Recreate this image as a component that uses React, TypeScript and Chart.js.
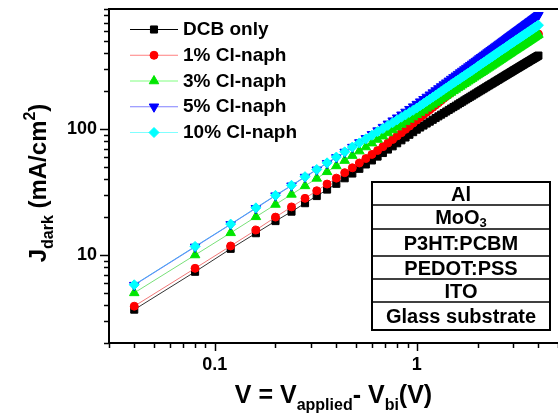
import React, { useEffect, useRef } from 'react';
import { Chart, registerables } from 'chart.js';

Chart.register(...registerables);

// ---------------- data ----------------
const VOLTAGE = [0.04,0.08,0.12,0.16,0.2,0.24,0.28,0.32,0.36,0.4,0.44,0.48,0.52,0.56,0.6,0.64,0.68,0.72,0.76,0.8,0.84,0.88,0.92,0.96,1,1.04,1.08,1.12,1.16,1.2,1.24,1.28,1.32,1.36,1.4,1.44,1.48,1.52,1.56,1.6,1.64,1.68,1.72,1.76,1.8,1.84,1.88,1.92,1.96,2,2.04,2.08,2.12,2.16,2.2,2.24,2.28,2.32,2.36,2.4,2.44,2.48,2.52,2.56,2.6,2.64,2.68,2.72,2.76,2.8,2.84,2.88,2.92,2.96,3,3.04,3.08,3.12,3.16,3.2,3.24,3.28,3.32,3.36,3.4,3.44,3.48,3.52,3.56,3.6,3.64,3.68,3.72,3.76,3.8,3.84,3.88,3.92,3.96,4];

const DCB_ONLY = [3.68,7.36,11.2,14.9,18.6,22.1,25.8,29.4,33.1,36.8,40.7,44.4,48.4,52.4,56.4,60.5,64.6,68.8,73.0,77.2,81.5,85.8,90.2,94.6,99.0,103.0,106.8,110.8,114.6,118.6,122.5,126.3,130.3,134.1,138.0,142.0,145.8,149.7,153.5,157.4,161.4,165.1,169.1,172.8,176.8,180.7,184.4,188.4,192.1,196.0,199.9,203.6,207.5,211.2,215.2,219.1,222.8,226.7,230.3,234.2,238.1,241.8,245.7,249.3,253.2,257.1,260.8,264.7,268.3,272.2,276.0,279.6,283.5,287.1,291.0,294.9,298.5,302.3,305.9,309.8,313.6,317.2,321.0,324.6,328.4,332.3,335.8,339.7,343.2,347.0,350.9,354.4,358.2,361.7,365.6,369.4,372.9,376.7,380.2,384.0];

const CL_NAPH_1 = [3.92,7.84,11.8,15.8,20.0,24.1,28.2,32.4,36.6,40.8,45.1,49.3,53.8,58.4,63.0,67.7,72.5,77.5,82.8,88.2,93.7,99.6,105.6,111.7,118.0,124.0,130.1,136.3,142.5,148.9,155.4,162.0,168.7,175.5,182.3,189.3,196.5,203.2,209.0,214.6,220.2,225.8,231.6,237.4,242.9,248.7,254.4,260.3,265.8,271.7,277.5,283.2,289.1,294.7,300.7,306.5,312.3,318.3,323.9,329.9,335.9,341.7,347.6,353.5,359.5,365.3,371.1,377.2,383.0,389.2,395.0,401.2,407.0,413.2,419.0,424.9,430.9,436.7,442.7,448.6,454.5,460.5,466.4,472.4,478.3,484.3,490.4,496.3,502.3,508.6,514.7,520.8,526.7,532.8,538.8,545.3,551.4,557.4,563.6,569.6];

const CL_NAPH_3 = [5.00,10.0,15.0,20.1,25.2,30.3,35.4,40.6,45.8,51.0,56.3,61.6,66.9,72.1,77.4,82.7,87.9,93.2,98.4,103.7,108.9,114.2,119.4,124.7,130.0,135.4,140.8,146.2,151.6,157.1,162.6,168.1,173.6,179.1,184.5,190.1,195.7,201.2,206.9,212.5,218.0,223.6,229.3,235.0,240.5,246.2,251.9,257.7,263.2,269.0,274.8,280.4,286.2,291.8,297.7,303.5,309.2,315.1,320.7,326.6,332.6,338.3,344.2,350.0,355.9,361.7,367.4,373.5,379.2,385.3,391.1,397.2,403.0,409.1,414.9,420.7,426.6,432.4,438.3,444.2,450.0,455.9,461.8,467.7,473.6,479.5,485.5,491.4,497.3,503.6,509.6,515.6,521.5,527.5,533.5,539.9,545.9,551.9,558.0,564.0];

const CL_NAPH_5 = [5.76,11.6,17.5,23.5,29.6,35.5,41.6,47.5,53.6,59.6,65.8,72.0,78.3,84.6,90.9,97.3,103.7,110.2,116.7,123.2,130.0,136.9,143.9,150.9,158.0,165.3,172.6,180.0,187.5,195.0,202.6,210.3,218.1,225.9,233.8,241.8,249.8,257.6,265.5,273.4,281.4,289.5,297.4,305.5,313.7,322.0,330.3,338.5,346.9,355.6,363.9,372.1,380.5,389.0,397.3,405.9,414.3,422.9,431.6,440.2,449.0,457.6,466.2,474.9,483.6,492.4,500.9,509.7,518.6,527.5,536.5,545.5,554.5,563.6,572.4,581.2,590.1,599.4,608.3,617.3,626.3,635.3,644.4,653.9,663.0,672.2,681.4,690.6,699.9,708.8,718.2,727.5,736.9,746.4,755.4,764.9,774.4,784.0,793.2,802.8];

const CL_NAPH_10 = [5.80,11.7,17.6,23.7,29.8,35.8,41.9,47.8,54.0,60.0,66.0,72.0,77.7,83.7,89.4,95.4,101.0,107.0,112.5,118.4,124.3,129.8,135.7,141.1,147.0,153.4,159.8,166.2,172.7,179.3,185.9,192.5,199.1,205.8,212.5,219.3,226.1,232.7,239.3,245.8,252.4,259.1,265.7,272.4,279.2,285.9,292.7,299.5,306.5,314.0,320.9,327.8,334.7,341.5,348.5,355.5,362.5,369.3,376.4,383.5,390.6,397.8,404.7,411.6,418.9,425.8,433.1,440.1,447.1,454.4,461.5,468.9,476.0,483.1,490.5,497.6,504.5,511.7,518.6,525.8,533.0,539.9,547.1,554.1,561.3,568.6,575.6,582.9,590.2,597.2,604.6,611.6,619.0,626.4,633.5,640.9,648.0,655.4,662.9,670.0];

const SERIES_LABELS = ['DCB only', '1% Cl-naph', '3% Cl-naph', '5% Cl-naph', '10% Cl-naph'];
const SERIES_VALUES = [DCB_ONLY, CL_NAPH_1, CL_NAPH_3, CL_NAPH_5, CL_NAPH_10];

const X_TICKS = [0.03,0.04,0.05,0.06,0.07,0.08,0.09,0.1,0.2,0.3,0.4,0.5,0.6,0.7,0.8,0.9,1,2,3,4,5];
const X_TICK_LABELS = ['0.1', '1'];
const Y_TICKS = [2,3,4,5,6,7,8,9,10,20,30,40,50,60,70,80,90,100,200,300,400,500,600,700,800,900];
const Y_TICK_LABELS = ['10', '100'];

const LAYERS = ['Al', 'MoO_3', 'P3HT:PCBM', 'PEDOT:PSS', 'ITO', 'Glass substrate'];

// ---------------- styles ----------------
const FONT = '"Liberation Sans", Arial, Helvetica, sans-serif';
const STYLES = [
  { line: '#333333', legendLine: '#000000', point: '#000000', shape: 'rect', r: 5, rot: 0 },
  { line: '#f07878', legendLine: '#ff8080', point: '#ff0000', shape: 'circle', r: 4, rot: 0 },
  { line: '#78e078', legendLine: '#80ff80', point: '#00e600', shape: 'triangle', r: 5.5, rot: 0 },
  { line: '#7878ff', legendLine: '#8080ff', point: '#0000ff', shape: 'triangle', r: 5.5, rot: 180 },
  { line: '#4aaaf0', legendLine: '#80ffff', point: '#00ffff', shape: 'rectRot', r: 5, rot: 0 },
];
const DRAW_ORDER = [4, 3, 2, 1, 0];
const ROW_H = [23, 24, 27, 23, 23, 28];

const fmt = (v: number) => String(Number(v.toPrecision(6)));

function drawMarker(ctx: CanvasRenderingContext2D, st: any, x: number, y: number) {
  const r = st.r;
  ctx.beginPath();
  if (st.shape === 'rect') {
    const s = r * Math.SQRT1_2;
    ctx.rect(x - s, y - s, 2 * s, 2 * s);
  } else if (st.shape === 'circle') {
    ctx.arc(x, y, r, 0, Math.PI * 2);
  } else if (st.shape === 'triangle') {
    let a = (st.rot * Math.PI) / 180;
    ctx.moveTo(x + Math.sin(a) * r, y - Math.cos(a) * r);
    a += (2 * Math.PI) / 3;
    ctx.lineTo(x + Math.sin(a) * r, y - Math.cos(a) * r);
    a += (2 * Math.PI) / 3;
    ctx.lineTo(x + Math.sin(a) * r, y - Math.cos(a) * r);
    ctx.closePath();
  } else {
    ctx.moveTo(x - r, y);
    ctx.lineTo(x, y - r);
    ctx.lineTo(x + r, y);
    ctx.lineTo(x, y + r);
    ctx.closePath();
  }
  ctx.fillStyle = st.point;
  ctx.strokeStyle = st.point;
  ctx.lineWidth = 1;
  ctx.fill();
  ctx.stroke();
}

function drawParts(ctx: CanvasRenderingContext2D, parts: any[], startX: number, baseY: number) {
  let x = startX;
  for (const p of parts) {
    ctx.font = `bold ${p.size}px ${FONT}`;
    ctx.fillText(p.t, x, baseY + p.dy);
    x += ctx.measureText(p.t).width;
  }
}
function partsWidth(ctx: CanvasRenderingContext2D, parts: any[]) {
  let w = 0;
  for (const p of parts) {
    ctx.font = `bold ${p.size}px ${FONT}`;
    w += ctx.measureText(p.t).width;
  }
  return w;
}

const decorPlugin = {
  id: 'decor',
  afterDraw(chart: any) {
    const { ctx, chartArea: a, scales } = chart;
    const xs = scales.x, ys = scales.y;
    ctx.save();
    // top frame line
    ctx.strokeStyle = '#000';
    ctx.lineWidth = 2;
    ctx.beginPath();
    ctx.moveTo(a.left - 1, a.top);
    ctx.lineTo(a.right, a.top);
    ctx.stroke();

    // tick marks
    ctx.lineWidth = 1.5;
    for (const v of X_TICKS) {
      const px = Math.round(xs.getPixelForValue(v)) + 0.5;
      const len = X_TICK_LABELS.includes(fmt(v)) ? 8 : 5;
      ctx.beginPath();
      ctx.moveTo(px, a.bottom);
      ctx.lineTo(px, a.bottom + len);
      ctx.stroke();
    }
    for (const v of Y_TICKS) {
      const py = Math.round(ys.getPixelForValue(v)) + 0.5;
      const len = Y_TICK_LABELS.includes(fmt(v)) ? 9 : 5;
      ctx.beginPath();
      ctx.moveTo(a.left, py);
      ctx.lineTo(a.left - len, py);
      ctx.stroke();
    }

    // x title
    ctx.fillStyle = '#000';
    ctx.textBaseline = 'alphabetic';
    ctx.textAlign = 'left';
    const xParts = [
      { t: 'V = V', size: 25, dy: 0 },
      { t: 'applied', size: 16, dy: 7 },
      { t: '- V', size: 25, dy: 0 },
      { t: 'bi', size: 16, dy: 7 },
      { t: '(V)', size: 25, dy: 0 },
    ];
    const xw = partsWidth(ctx, xParts);
    drawParts(ctx, xParts, (a.left + a.right) / 2 - xw / 2, 403);

    // y title
    const yParts = [
      { t: 'J', size: 24, dy: 0 },
      { t: 'dark', size: 16, dy: 7 },
      { t: ' (mA/cm', size: 24, dy: 0 },
      { t: '2', size: 16, dy: -11 },
      { t: ')', size: 24, dy: 0 },
    ];
    const yw = partsWidth(ctx, yParts);
    ctx.save();
    ctx.translate(46, (a.top + a.bottom) / 2 + 7);
    ctx.rotate(-Math.PI / 2);
    drawParts(ctx, yParts, -yw / 2, 0);
    ctx.restore();

    // legend
    const lx = a.left + 21, ly0 = a.top + 20, dy = 25.75;
    SERIES_LABELS.forEach((lab, i) => {
      const st = STYLES[i];
      const y = ly0 + i * dy;
      ctx.strokeStyle = st.legendLine;
      ctx.lineWidth = 1;
      ctx.beginPath();
      ctx.moveTo(lx, y + 0.5);
      ctx.lineTo(lx + 48, y + 0.5);
      ctx.stroke();
      drawMarker(ctx, st, lx + 24, y + 0.5);
      ctx.fillStyle = '#000';
      ctx.font = `bold 19px ${FONT}`;
      ctx.textBaseline = 'middle';
      ctx.textAlign = 'left';
      ctx.fillText(lab, lx + 53, y + 1);
    });

    // device layer stack
    const bx0 = a.right - 186, bx1 = a.right - 8;
    let by = a.bottom - 161;
    const total = ROW_H.reduce((s, h) => s + h, 0);
    ctx.fillStyle = '#fff';
    ctx.fillRect(bx0, by, bx1 - bx0, total);
    ctx.strokeStyle = '#000';
    ctx.lineWidth = 2;
    ctx.strokeRect(bx0, by, bx1 - bx0, total);
    LAYERS.forEach((name, i) => {
      const h = ROW_H[i];
      if (i > 0) {
        ctx.lineWidth = 1.5;
        ctx.beginPath();
        ctx.moveTo(bx0, by);
        ctx.lineTo(bx1, by);
        ctx.stroke();
      }
      const [main, sub] = name.split('_');
      const parts: any[] = [{ t: main, size: 20, dy: 0 }];
      if (sub) parts.push({ t: sub, size: 13, dy: 3 });
      ctx.fillStyle = '#000';
      ctx.textBaseline = 'alphabetic';
      ctx.textAlign = 'left';
      const w = partsWidth(ctx, parts);
      drawParts(ctx, parts, (bx0 + bx1) / 2 - w / 2, by + h / 2 + 7);
      by += h;
    });
    ctx.restore();
  },
};

const noPad = (s: any) => {
  s.paddingLeft = 0;
  s.paddingRight = 0;
  s.paddingTop = 0;
  s.paddingBottom = 0;
};

export default function App() {
  const ref = useRef<HTMLCanvasElement>(null);
  useEffect(() => {
    const datasets = SERIES_VALUES.map((vals, i) => ({
      label: SERIES_LABELS[i],
      data: VOLTAGE.map((v, k) => ({ x: v, y: vals[k] })),
      showLine: true,
      borderColor: STYLES[i].line,
      borderWidth: 1,
      pointStyle: STYLES[i].shape,
      pointRotation: STYLES[i].rot,
      pointRadius: STYLES[i].r,
      pointBackgroundColor: STYLES[i].point,
      pointBorderColor: STYLES[i].point,
      pointBorderWidth: 1,
      order: DRAW_ORDER[i],
    }));
    const tickFont = { family: FONT, size: 18, weight: 'bold' as const };
    const chart = new Chart(ref.current as HTMLCanvasElement, {
      type: 'scatter',
      data: { datasets },
      options: {
        responsive: false,
        animation: false,
        devicePixelRatio: 1,
        layout: { autoPadding: false, padding: { top: 9, right: 0, left: 0, bottom: 0 } },
        plugins: { legend: { display: false }, tooltip: { enabled: false } },
        scales: {
          x: {
            type: 'logarithmic',
            position: 'bottom',
            min: 0.03,
            max: 5,
            grid: { display: false, drawTicks: true, tickLength: 9 },
            border: { display: true, color: '#000', width: 2 },
            ticks: {
              autoSkip: false,
              maxRotation: 0,
              padding: 2,
              color: '#000',
              font: tickFont,
              callback: (v: any) => (X_TICK_LABELS.includes(fmt(Number(v))) ? fmt(Number(v)) : ''),
            },
            afterBuildTicks: (s: any) => {
              s.ticks = X_TICKS.map((v) => ({ value: v }));
            },
            afterFit: (s: any) => {
              s.height = 75;
              noPad(s);
            },
          },
          y: {
            type: 'logarithmic',
            position: 'left',
            min: 2,
            max: 900,
            grid: { display: false, drawTicks: true, tickLength: 9 },
            border: { display: true, color: '#000', width: 2 },
            ticks: {
              autoSkip: false,
              padding: 3,
              color: '#000',
              font: tickFont,
              callback: (v: any) => (Y_TICK_LABELS.includes(fmt(Number(v))) ? fmt(Number(v)) : ''),
            },
            afterBuildTicks: (s: any) => {
              s.ticks = Y_TICKS.map((v) => ({ value: v }));
            },
            afterFit: (s: any) => {
              s.width = 109;
              noPad(s);
            },
          },
        },
      },
      plugins: [decorPlugin],
    } as any);
    return () => chart.destroy();
  }, []);
  return (
    <div style={{ position: 'fixed', left: 0, top: 0, width: 558, height: 418, background: '#fff', overflow: 'hidden' }}>
      <canvas ref={ref} width={558} height={418} style={{ display: 'block', width: 558, height: 418 }} />
    </div>
  );
}
